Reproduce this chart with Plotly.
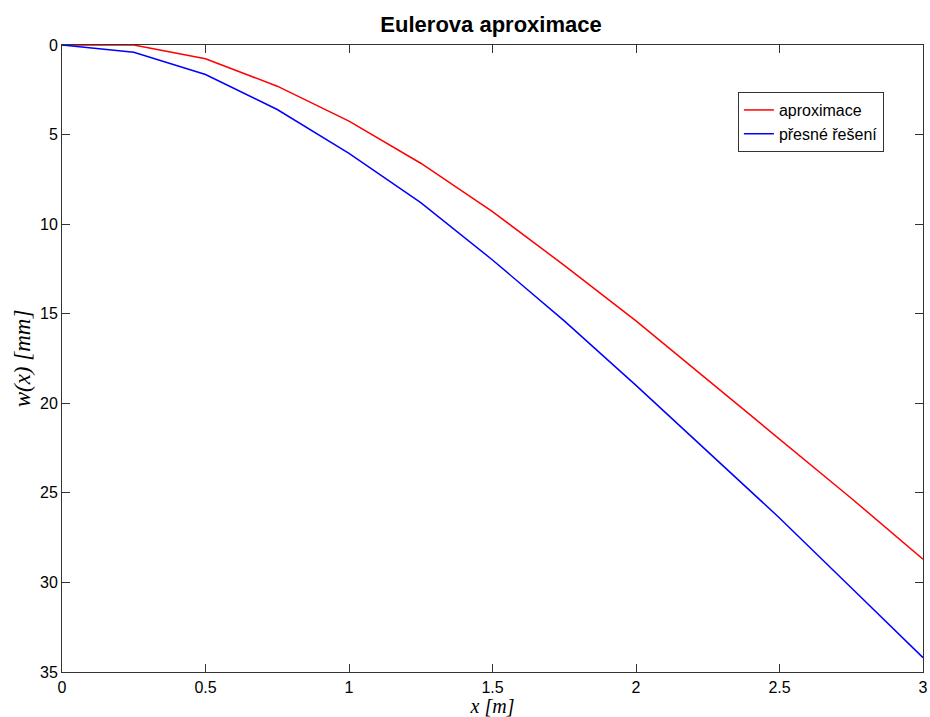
import plotly.graph_objects as go

x_vals = [0, 0.25, 0.5, 0.75, 1.0, 1.25, 1.5, 1.75, 2.0, 2.25, 2.5, 2.75, 3.0]
aproximace = [0, 0.0, 0.77, 2.3, 4.25, 6.6, 9.3, 12.3, 15.4, 18.7, 22.0, 25.3, 28.7]
presne = [0, 0.4, 1.65, 3.6, 6.05, 8.8, 12.0, 15.4, 19.0, 22.7, 26.4, 30.3, 34.2]

x_ticks = [0, 0.5, 1, 1.5, 2, 2.5, 3]
x_tick_text = ["0", "0.5", "1", "1.5", "2", "2.5", "3"]
y_ticks = [0, 5, 10, 15, 20, 25, 30, 35]

fig = go.Figure()
fig.add_trace(go.Scatter(x=x_vals, y=aproximace, mode="lines", name="aproximace",
                         line=dict(color="#ff0000", width=1.5)))
fig.add_trace(go.Scatter(x=x_vals, y=presne, mode="lines", name="přesné řešení",
                         line=dict(color="#0000ff", width=1.5)))

axis_common = dict(showgrid=False, zeroline=False, showline=True, linecolor="#333333",
                   linewidth=1, mirror="ticks", ticks="inside", ticklen=8, automargin=False,
                   tickcolor="#333333", tickfont=dict(family="Arial, Liberation Sans", size=16, color="black"))

fig.update_layout(
    width=930, height=717,
    margin=dict(l=62, r=7, t=45, b=45),
    paper_bgcolor="white", plot_bgcolor="white",
    title=dict(text="<b>Eulerova aproximace</b>", x=0.528, xanchor="center", y=1 - 24 / 717, yanchor="middle",
               font=dict(family="Arial, Liberation Sans", size=22, color="black")),
    xaxis=dict(range=[0, 3], tickvals=x_ticks, ticktext=x_tick_text, ticklabelstandoff=1,
               title=dict(text="<i>x [m]</i>", standoff=2,
                          font=dict(family="Liberation Serif, Times New Roman", size=20, color="black")),
               **axis_common),
    yaxis=dict(range=[35, 0], tickvals=y_ticks,
               title=dict(text="<i>w(x) [mm]</i>", standoff=2,
                          font=dict(family="Liberation Serif, Times New Roman", size=23, color="black")),
               **axis_common),
    legend=dict(x=0.785, y=0.925, xanchor="left", yanchor="top", bgcolor="white",
                bordercolor="#333333", borderwidth=1,
                font=dict(family="Arial, Liberation Sans", size=16, color="black"),
                tracegroupgap=0, itemwidth=30),
    showlegend=True,
)

fig.write_html("out.html")
